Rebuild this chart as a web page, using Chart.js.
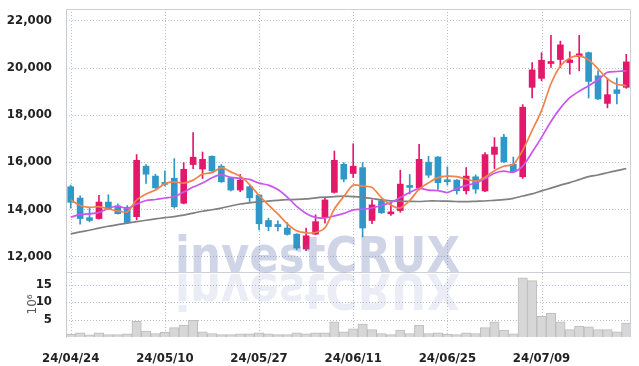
<!DOCTYPE html>
<html>
<head>
<meta charset="utf-8">
<script src="https://cdn.jsdelivr.net/npm/chart.js@4.4.1/dist/chart.umd.min.js"></script>
<style>
  html, body { margin: 0; padding: 0; background: #fff; }
  #chart { display: block; }
</style>
</head>
<body>
<canvas id="chart" width="639" height="366"></canvas>
<script>
const dates = [
  "24/04/24","24/04/25","24/04/26","24/04/29","24/04/30","24/05/02","24/05/03","24/05/07","24/05/08","24/05/09",
  "24/05/10","24/05/13","24/05/14","24/05/16","24/05/17","24/05/20","24/05/21","24/05/22","24/05/23","24/05/24",
  "24/05/27","24/05/28","24/05/29","24/05/30","24/05/31","24/06/03","24/06/04","24/06/05","24/06/07","24/06/10",
  "24/06/11","24/06/12","24/06/13","24/06/14","24/06/17","24/06/18","24/06/19","24/06/20","24/06/21","24/06/24",
  "24/06/25","24/06/26","24/06/27","24/06/28","24/07/01","24/07/02","24/07/03","24/07/04","24/07/05","24/07/08",
  "24/07/09","24/07/10","24/07/11","24/07/12","24/07/15","24/07/16","24/07/17","24/07/18","24/07/19","24/07/22"
];

const opens = [
  14950, 14470, 13640, 13600, 14300, 14130, 14080, 13680, 15820, 15400,
  15120, 15310, 14250, 15890, 15700, 16240, 15820, 15330, 14810, 14950,
  14600, 13520, 13350, 13200, 12940, 12310, 12940, 13640, 14710, 15900,
  15510, 15760, 13520, 14360, 13800, 13940, 14980, 14900, 15990, 16210,
  15230, 15230, 14780, 15370, 14770, 16320, 17050, 15900, 15370, 19160,
  19540, 20170, 20340, 20210, 20460, 20630, 19650, 18480, 19060, 19160
];
const closes = [
  14290, 13600, 13520, 14300, 14020, 13810, 13430, 16070, 15480, 14900,
  15050, 14100, 15690, 16200, 16110, 15620, 15160, 14810, 15230, 14480,
  13380, 13260, 13260, 12930, 12350, 12870, 13470, 14390, 16070, 15270,
  15820, 13200, 14180, 13850, 13880, 15060, 14920, 16110, 15440, 15120,
  15160, 14780, 15400, 14850, 16310, 16630, 16000, 15580, 18320, 19900,
  20310, 20250, 20960, 20320, 20580, 19410, 18670, 18850, 18900, 20240
];
const highs = [
  15020, 14560, 14080, 14590, 14610, 14220, 14150, 16310, 15890, 15480,
  15620, 16140, 15970, 17240, 16420, 16260, 15890, 15350, 15470, 15000,
  14620, 13620, 13500, 13430, 12960, 13200, 13760, 14480, 16460, 15970,
  16770, 15970, 14390, 14400, 14270, 15650, 15470, 16750, 16240, 16230,
  15790, 15250, 15760, 15450, 16400, 17030, 17170, 16210, 18430, 20210,
  20630, 21360, 21120, 20670, 21360, 20660, 19860, 19550, 19550, 20560
];
const lows = [
  14040, 13360, 13460, 13580, 13970, 13790, 13430, 13550, 15090, 14880,
  14980, 14040, 14220, 15720, 15300, 15600, 15130, 14770, 14740, 14290,
  13120, 13080, 13080, 12900, 12280, 12240, 12920, 13410, 14680, 15160,
  15340, 12820, 13380, 13810, 13730, 13870, 14640, 14810, 15340, 14840,
  15020, 14640, 14640, 14670, 14740, 15720, 15980, 15550, 15300, 18710,
  19440, 20000, 20000, 19720, 19860, 18710, 18640, 18290, 18460, 19120
];

// moving average lines
const maShort = [
  14390, 14155, 14078, 14105, 14008, 13924, 13882, 14387, 14640, 14808,
  15082, 15157, 15103, 15229, 15482, 15545, 15755, 15579, 15397, 15040,
  14577, 14177, 13798, 13377, 13082, 12998, 13010, 13208, 14008, 14534,
  15019, 14977, 14922, 14492, 14177, 14050, 14366, 14850, 15115, 15334,
  15397, 15376, 15271, 15187, 15355, 15629, 15819, 15903, 16492, 17334,
  18176, 19313, 20070, 20407, 20492, 20323, 19944, 19523, 19292, 19229
];
const maMid = [
  13659, 13777, 13798, 13861, 14029, 14134, 14029, 14218, 14366, 14408,
  14471, 14526, 14724, 14934, 15103, 15326, 15461, 15343, 15300, 15258,
  15103, 15019, 14829, 14513, 14113, 13819, 13650, 13629, 13713, 13819,
  13966, 13995, 14050, 14155, 14282, 14492, 14703, 14880, 14808, 14787,
  14703, 14872, 15006, 15103, 15292, 15524, 15608, 15566, 15819, 16408,
  17039, 17713, 18281, 18723, 18997, 19229, 19481, 19797, 19831, 19860
];
const maLong = [
  12947, 13036, 13107, 13196, 13276, 13343, 13410, 13469, 13528, 13587,
  13638, 13684, 13743, 13831, 13911, 13974, 14046, 14134, 14218, 14269,
  14307, 14341, 14375, 14400, 14412, 14433, 14480, 14513, 14534, 14551,
  14534, 14501, 14450, 14391, 14353, 14337, 14328, 14324, 14345, 14345,
  14337, 14324, 14316, 14333, 14345, 14375, 14404, 14459, 14555, 14648,
  14774, 14892, 15019, 15124, 15250, 15376, 15448, 15541, 15633, 15722
];

// volume, millions of shares
const volumes = [
  0.8, 1.2, 0.6, 1.2, 0.7, 0.7, 0.9, 4.5, 1.7, 1.0,
  1.3, 2.7, 3.4, 4.8, 1.5, 1.0, 0.7, 0.7, 0.9, 0.9,
  1.2, 0.9, 0.7, 0.7, 1.2, 0.9, 1.2, 1.2, 4.3, 1.5,
  2.3, 3.7, 2.1, 1.0, 0.7, 2.0, 1.0, 3.4, 1.0, 1.2,
  0.8, 0.7, 1.2, 1.0, 2.7, 4.3, 2.0, 0.9, 16.9, 16.1,
  5.9, 6.8, 4.3, 2.1, 3.1, 2.9, 2.1, 2.1, 1.5, 4.0
];

const priceTicks = [12000, 14000, 16000, 18000, 20000, 22000];
const volumeTicks = [5, 10, 15];

const UP = "#e2186b";
const DOWN = "#3097c9";
const candleColors = opens.map((o, i) => (closes[i] >= o ? UP : DOWN));
const gridColor = "#b9bed6";
const tickFont = { family: "'DejaVu Sans Condensed', 'DejaVu Sans'", size: 13, weight: "bold" };

// dotted grid, drawn under the marks
const dottedGrid = {
  id: "dottedGrid",
  beforeDatasetsDraw(chart) {
    const { ctx, chartArea: a, scales } = chart;
    ctx.save();
    ctx.strokeStyle = gridColor;
    ctx.lineWidth = 1;
    ctx.setLineDash([1, 2]);
    ctx.beginPath();
    priceTicks.forEach((v) => {
      const y = Math.round(scales.y.getPixelForValue(v)) + 0.5;
      ctx.moveTo(a.left, y);
      ctx.lineTo(a.right, y);
    });
    volumeTicks.forEach((v) => {
      const y = Math.round(scales.v.getPixelForValue(v)) + 0.5;
      ctx.moveTo(a.left, y);
      ctx.lineTo(a.right, y);
    });
    dates.forEach((d, i) => {
      if (i % 10 !== 0) return;
      const x = Math.round(scales.x.getPixelForValue(i)) + 0.5;
      ctx.moveTo(x, a.top);
      ctx.lineTo(x, a.bottom);
    });
    ctx.stroke();
    ctx.restore();
  },
};

const frame = {
  id: "frame",
  afterDraw(chart) {
    const { ctx, chartArea: a, scales } = chart;
    ctx.save();
    ctx.strokeStyle = "#cfd1d8";
    ctx.lineWidth = 1;
    ctx.beginPath();
    ctx.moveTo(a.left, a.top + 0.5);
    ctx.lineTo(a.right - 0.5, a.top + 0.5);
    ctx.lineTo(a.right - 0.5, a.bottom);
    const sep = Math.round(scales.y.bottom) + 0.5;
    ctx.moveTo(a.left, sep);
    ctx.lineTo(a.right, sep);
    ctx.stroke();

    // watermark and its reflection
    const text = "investCRUX";
    ctx.font = "bold 50px 'DejaVu Sans'";
    const w = ctx.measureText(text).width;
    const sx = 285 / w;
    ctx.translate(175, sep - 1);
    ctx.scale(sx, 1);
    ctx.textBaseline = "alphabetic";
    ctx.fillStyle = "rgba(95, 115, 175, 0.3)";
    ctx.fillText(text, 0, 0);
    ctx.scale(1, -1);
    ctx.fillStyle = "rgba(95, 115, 175, 0.13)";
    ctx.fillText(text, 0, -2);
    ctx.restore();
  },
};

function noOverhang(s) {
  s.width = 66;
  s.paddingTop = 0;
  s.paddingBottom = 0;
}

new Chart(document.getElementById("chart").getContext("2d"), {
  type: "bar",
  data: {
    labels: dates,
    datasets: [
      {
        type: "line",
        data: maShort,
        yAxisID: "y",
        borderColor: "#f0834a",
        borderWidth: 1.7,
        pointRadius: 0,
        tension: 0.25,
        order: 1,
      },
      {
        type: "line",
        data: maMid,
        yAxisID: "y",
        borderColor: "#cc55ee",
        borderWidth: 1.7,
        pointRadius: 0,
        tension: 0.25,
        order: 1,
      },
      {
        type: "line",
        data: maLong,
        yAxisID: "y",
        borderColor: "#808080",
        borderWidth: 1.7,
        pointRadius: 0,
        tension: 0.25,
        order: 1,
      },
      {
        data: opens.map((o, i) => [o, closes[i]]),
        yAxisID: "y",
        backgroundColor: candleColors,
        borderWidth: 0,
        barThickness: 6,
        minBarLength: 2,
        grouped: false,
        order: 2,
      },
      {
        data: lows.map((l, i) => [l, highs[i]]),
        yAxisID: "y",
        backgroundColor: candleColors,
        borderWidth: 0,
        barThickness: 1,
        grouped: false,
        order: 3,
      },
      {
        data: volumes,
        yAxisID: "v",
        backgroundColor: "#d7d7d7",
        borderColor: "#bdbdbd",
        borderWidth: 1,
        barPercentage: 1,
        categoryPercentage: 1,
        grouped: false,
        order: 4,
      },
    ],
  },
  options: {
    responsive: false,
    devicePixelRatio: 1,
    animation: false,
    layout: { padding: { top: 9, right: 8, left: 0, bottom: 0 } },
    plugins: {
      legend: { display: false },
      tooltip: { enabled: false },
    },
    scales: {
      x: {
        offset: true,
        grid: { display: false },
        border: { display: false },
        ticks: {
          autoSkip: false,
          maxRotation: 0,
          padding: 6,
          color: "#222",
          font: tickFont,
          callback: function (value, index) {
            return index % 10 === 0 ? dates[index] : "";
          },
        },
        afterFit: (s) => { s.height = 29; s.paddingLeft = 0; s.paddingRight = 0; },
      },
      v: {
        stack: "panes",
        stackWeight: 1,
        min: 0,
        max: 18.6,
        grid: { display: false },
        border: { display: true, color: "#c8cad4" },
        ticks: {
          autoSkip: false,
          padding: 6,
          color: "#222",
          font: tickFont,
        },
        title: {
          display: true,
          text: "10⁶",
          color: "#555",
          font: { family: "'DejaVu Sans'", size: 12 },
          padding: { top: 26, bottom: 0 },
        },
        afterBuildTicks: (s) => { s.ticks = volumeTicks.map((v) => ({ value: v })); },
        afterFit: noOverhang,
      },
      y: {
        stack: "panes",
        stackWeight: 4.04,
        min: 11340,
        max: 22480,
        grid: { display: false },
        border: { display: true, color: "#c8cad4" },
        ticks: {
          autoSkip: false,
          padding: 6,
          color: "#222",
          font: tickFont,
          callback: (v) => Number(v).toLocaleString("en-US"),
        },
        afterBuildTicks: (s) => { s.ticks = priceTicks.map((v) => ({ value: v })); },
        afterFit: noOverhang,
      },
    },
  },
  plugins: [dottedGrid, frame],
});
</script>
</body>
</html>
